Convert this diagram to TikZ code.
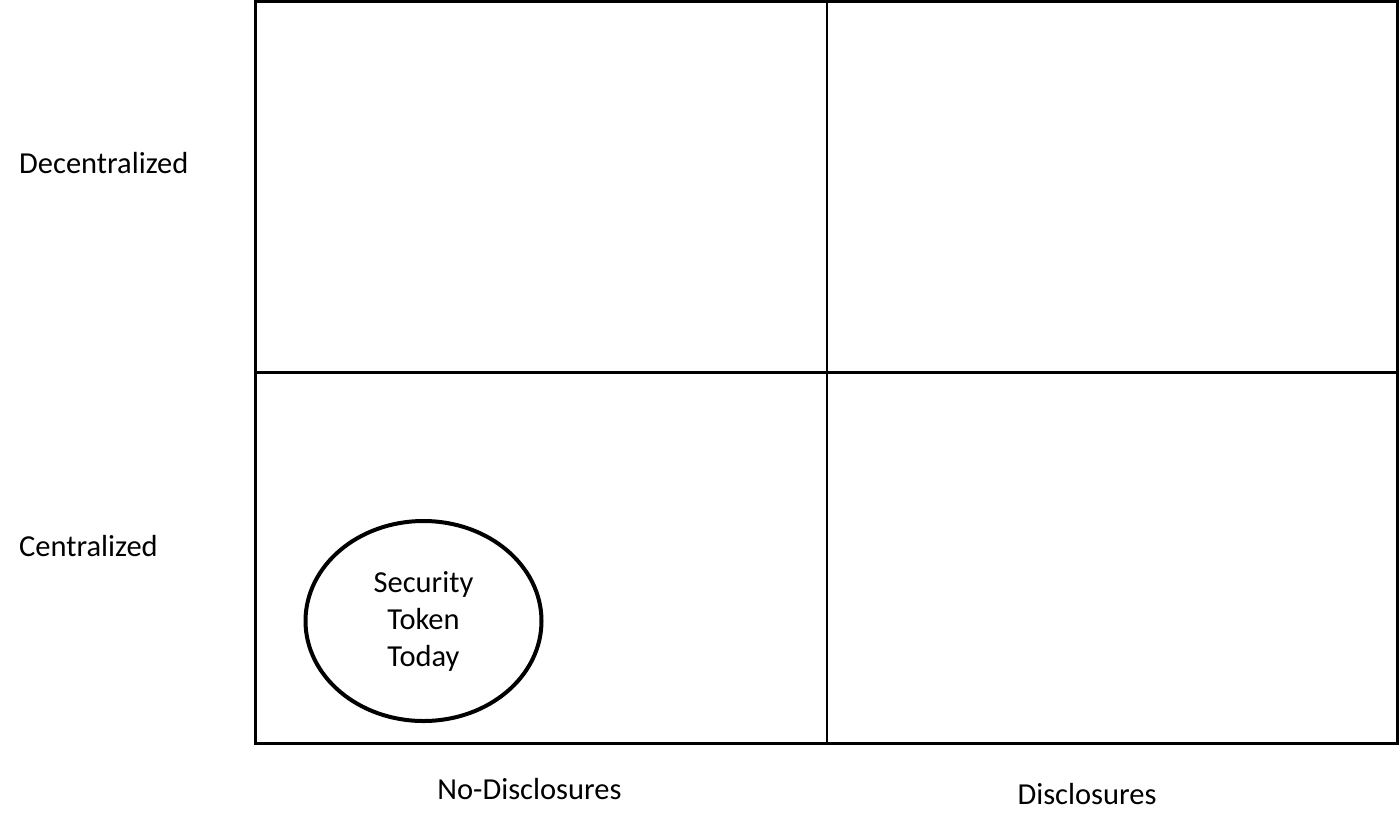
\documentclass[tikz,border=0pt]{standalone}
\usepackage{fontspec}
\setmainfont{Carlito}
\usetikzlibrary{shapes.geometric}
\begin{document}
\begin{tikzpicture}[x=1pt,y=-1pt,
  grid/.style={line width=2.6pt,black},
  lbl/.style={font=\fontsize{30.5}{36}\selectfont,inner sep=0pt},
  bubble/.style={ellipse,draw,line width=4pt,minimum width=236pt,minimum height=200pt,inner sep=0pt,align=center,font=\fontsize{30.5}{37}\selectfont}]
\useasboundingbox (0,0) rectangle (1400,831);
\coordinate (tl) at (255.5,1.3);
\coordinate (tr) at (1397.5,1.3);
\coordinate (bl) at (255.5,743.5);
\coordinate (br) at (1397.5,743.5);
\coordinate (ml) at (255.5,372.5);
\coordinate (mr) at (1397.5,372.5);
\coordinate (mt) at (827,1.3);
\coordinate (mb) at (827,743.5);
\draw[grid] (tl) -- (tr) -- (br) -- (bl) -- cycle;
\draw[grid] (ml) -- (mr);
\draw[grid] (mt) -- (mb);
\node[lbl,anchor=west] (dec) at (19,163) {Decentralized};
\node[lbl,anchor=west] (cen) at (19,546) {Centralized};
\node[lbl] (nod) at (529.5,789) {No-Disclosures};
\node[lbl] (dis) at (1087,794) {Disclosures};
\node[bubble] (stt) at (423.5,621) {Security\\Token\\Today};
\end{tikzpicture}
\end{document}
